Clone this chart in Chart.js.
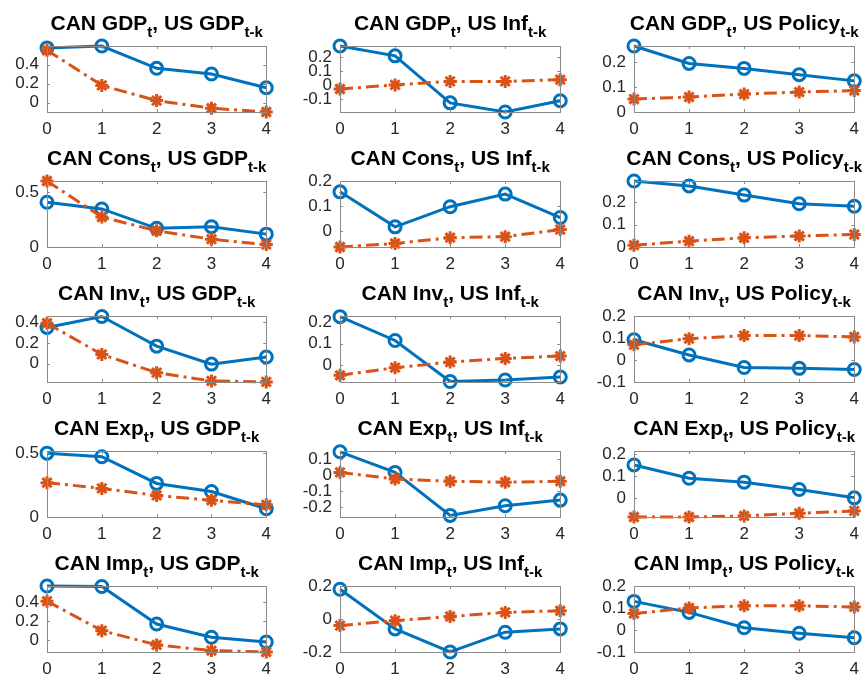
<!DOCTYPE html>
<html>
<head>
<meta charset="utf-8">
<script src="https://cdn.jsdelivr.net/npm/chart.js@4.4.0/dist/chart.umd.min.js"></script>
<style>
  html, body { margin: 0; padding: 0; background: #ffffff; }
  #fig { position: relative; width: 865px; height: 681px; overflow: hidden; }
  #fig canvas { position: absolute; }
</style>
</head>
<body>
<div id="fig"></div>
<script>
// Horizon k and panel labels
const lags = [0, 1, 2, 3, 4];
const responses = ['GDP', 'Cons', 'Inv', 'Exp', 'Imp'];
const shocks = ['GDP', 'Inf', 'Policy'];

// Responses of each Canadian variable; inner arrays follow the US shocks (GDP, Inf, Policy).
// "A" = solid blue line with circles, "B" = dash-dot orange line with stars.
const gdpA  = [[0.575, 0.595, 0.36, 0.30, 0.155], [0.28, 0.21, -0.125, -0.19, -0.11], [0.265, 0.195, 0.175, 0.15, 0.125]];
const gdpB  = [[0.55, 0.18, 0.02, -0.06, -0.10], [-0.026, 0.003, 0.028, 0.028, 0.04], [0.052, 0.06, 0.072, 0.08, 0.086]];
const consA = [[0.407, 0.346, 0.17, 0.185, 0.117], [0.157, 0.018, 0.098, 0.148, 0.055], [0.295, 0.273, 0.232, 0.193, 0.182]];
const consB = [[0.60, 0.272, 0.148, 0.071, 0.022], [-0.062, -0.048, -0.025, -0.021, 0.007], [0.008, 0.026, 0.041, 0.049, 0.056]];
const invA  = [[0.35, 0.455, 0.17, -0.003, 0.066], [0.225, 0.115, -0.075, -0.068, -0.054], [0.092, 0.023, -0.034, -0.038, -0.043]];
const invB  = [[0.39, 0.09, -0.085, -0.165, -0.174], [-0.046, -0.011, 0.015, 0.032, 0.043], [0.069, 0.097, 0.111, 0.111, 0.105]];
const expA  = [[0.50, 0.472, 0.263, 0.20, 0.065], [0.145, 0.017, -0.25, -0.19, -0.155], [0.151, 0.09, 0.072, 0.038, 0.0]];
const expB  = [[0.269, 0.224, 0.169, 0.131, 0.095], [0.017, -0.024, -0.038, -0.044, -0.038], [-0.088, -0.088, -0.083, -0.071, -0.06]];
const impA  = [[0.57, 0.565, 0.17, 0.03, -0.02], [0.18, -0.06, -0.20, -0.08, -0.06], [0.13, 0.08, 0.01, -0.015, -0.035]];
const impB  = [[0.41, 0.10, -0.05, -0.11, -0.125], [-0.04, -0.01, 0.015, 0.04, 0.05], [0.075, 0.10, 0.11, 0.11, 0.105]];

// Vertical axis limits and tick values per panel
const gdpRange  = [[-0.10, 0.595], [-0.19, 0.28], [0, 0.265]];
const consRange = [[0, 0.60], [-0.062, 0.20], [0, 0.295]];
const invRange  = [[-0.175, 0.46], [-0.077, 0.228], [-0.10, 0.20]];
const expRange  = [[0, 0.517], [-0.26, 0.15], [-0.088, 0.215]];
const impRange  = [[-0.125, 0.57], [-0.20, 0.20], [-0.10, 0.20]];

const gdpTicks  = [[0, 0.2, 0.4], [-0.1, 0, 0.1, 0.2], [0, 0.1, 0.2]];
const consTicks = [[0, 0.5], [0, 0.1, 0.2], [0, 0.1, 0.2]];
const invTicks  = [[0, 0.2, 0.4], [0, 0.1, 0.2], [-0.1, 0, 0.1, 0.2]];
const expTicks  = [[0, 0.5], [-0.2, -0.1, 0, 0.1], [0, 0.1, 0.2]];
const impTicks  = [[0, 0.2, 0.4], [-0.2, 0, 0.2], [-0.1, 0, 0.1, 0.2]];

const seriesA = [gdpA, consA, invA, expA, impA];
const seriesB = [gdpB, consB, invB, expB, impB];
const ranges  = [gdpRange, consRange, invRange, expRange, impRange];
const yTicks  = [gdpTicks, consTicks, invTicks, expTicks, impTicks];

// Figure layout (plot box edges in page pixels)
const colLeft  = [47, 340, 634];
const colRight = [270, 564, 858];
const rowTop   = [46, 181, 316, 451, 586];
const boxH = 66;
const PAD_L = 47, PAD_R = 8, PAD_T = 46, PAD_B = 30;

const BLUE = '#0072BD';
const ORANGE = '#D95319';
const AXIS_TXT = '#262626';
const AXIS_LINE = '#8a8a8a';
const FONT = "'Liberation Sans', Arial, Helvetica, sans-serif";

// Box outline, inward tick marks and a title with subscripts
const panelDecor = {
  id: 'panelDecor',
  afterDraw(chart) {
    const { ctx, chartArea: a, scales } = chart;
    const tl = 3;
    ctx.save();
    ctx.strokeStyle = AXIS_LINE;
    ctx.lineWidth = 1;
    ctx.strokeRect(Math.round(a.left) + 0.5, Math.round(a.top) + 0.5,
                   Math.round(a.right - a.left), Math.round(a.bottom - a.top));
    ctx.beginPath();
    scales.y.ticks.forEach(t => {
      const y = Math.round(scales.y.getPixelForValue(t.value)) + 0.5;
      ctx.moveTo(a.left, y); ctx.lineTo(a.left + tl, y);
      ctx.moveTo(a.right, y); ctx.lineTo(a.right - tl, y);
    });
    scales.x.ticks.forEach((t, i) => {
      const x = Math.round(scales.x.getPixelForTick(i)) + 0.5;
      ctx.moveTo(x, a.bottom); ctx.lineTo(x, a.bottom - tl);
      ctx.moveTo(x, a.top); ctx.lineTo(x, a.top + tl);
    });
    ctx.stroke();

    // title: CAN <resp>_t, US <shock>_{t-k}
    const parts = chart.options.plugins.panelDecor.parts;
    const mainFont = 'bold 21px ' + FONT;
    const subFont = 'bold 15px ' + FONT;
    let total = 0;
    parts.forEach(p => { ctx.font = p.sub ? subFont : mainFont; p.w = ctx.measureText(p.text).width; total += p.w; });
    let x = (a.left + a.right) / 2 - total / 2;
    const base = a.top - 16;
    ctx.fillStyle = '#000000';
    ctx.textBaseline = 'alphabetic';
    ctx.textAlign = 'left';
    parts.forEach(p => {
      ctx.font = p.sub ? subFont : mainFont;
      ctx.fillText(p.text, x, p.sub ? base + 7 : base);
      x += p.w;
    });
    ctx.restore();
  }
};

function fmt(v) {
  return String(Number(v.toFixed(3)));
}

const fig = document.getElementById('fig');

for (let r = 0; r < responses.length; r++) {
  for (let c = 0; c < shocks.length; c++) {
    const L = colLeft[c], R = colRight[c], T = rowTop[r];
    const w = Math.round(R - L + PAD_L + PAD_R);
    const h = boxH + PAD_T + PAD_B;
    const cv = document.createElement('canvas');
    cv.width = w; cv.height = h;
    cv.style.width = w + 'px'; cv.style.height = h + 'px';
    cv.style.left = (L - PAD_L) + 'px';
    cv.style.top = (T - PAD_T) + 'px';
    fig.appendChild(cv);

    const tickVals = yTicks[r][c];
    new Chart(cv, {
      type: 'line',
      data: {
        labels: lags.map(String),
        datasets: [
          {
            data: seriesA[r][c],
            borderColor: BLUE,
            backgroundColor: 'rgba(255,255,255,0)',
            borderWidth: 3,
            pointStyle: 'circle',
            pointRadius: 6,
            pointBorderWidth: 3,
            pointBorderColor: BLUE,
            pointBackgroundColor: 'rgba(255,255,255,0)',
            tension: 0,
            clip: false,
            order: 2
          },
          {
            data: seriesB[r][c],
            borderColor: ORANGE,
            backgroundColor: ORANGE,
            borderWidth: 3,
            borderDash: [13, 5, 3, 5],
            pointStyle: 'star',
            pointRadius: 6.5,
            pointBorderWidth: 3,
            pointBorderColor: ORANGE,
            pointBackgroundColor: ORANGE,
            tension: 0,
            clip: false,
            order: 1
          }
        ]
      },
      options: {
        responsive: false,
        animation: false,
        devicePixelRatio: 1,
        layout: { padding: { left: 0, right: PAD_R, top: PAD_T, bottom: 0 } },
        plugins: {
          legend: { display: false },
          tooltip: { enabled: false },
          panelDecor: {
            parts: [
              { text: 'CAN ' + responses[r], sub: false },
              { text: 't', sub: true },
              { text: ', US ' + shocks[c], sub: false },
              { text: 't-k', sub: true }
            ]
          }
        },
        scales: {
          x: {
            type: 'category',
            offset: false,
            grid: { display: false, drawTicks: false },
            border: { display: false },
            ticks: { color: AXIS_TXT, font: { family: FONT, size: 17 }, padding: 7, maxRotation: 0, autoSkip: false },
            afterFit(s) { s.height = PAD_B; }
          },
          y: {
            type: 'linear',
            min: ranges[r][c][0],
            max: ranges[r][c][1],
            grid: { display: false, drawTicks: false },
            border: { display: false },
            ticks: { color: AXIS_TXT, font: { family: FONT, size: 17 }, padding: 8, autoSkip: false, callback: v => fmt(v) },
            afterBuildTicks(s) { s.ticks = tickVals.map(v => ({ value: v })); },
            afterFit(s) { s.width = PAD_L; }
          }
        }
      },
      plugins: [panelDecor]
    });
  }
}
</script>
</body>
</html>
